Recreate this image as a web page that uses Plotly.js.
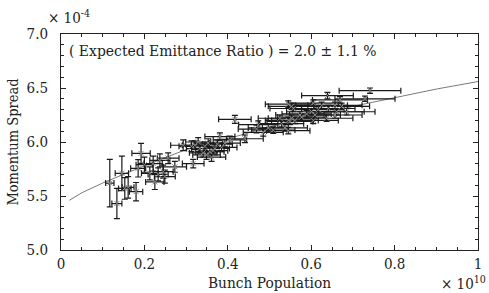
<!DOCTYPE html>
<html>
<head>
<meta charset="utf-8">
<script src="https://cdn.plot.ly/plotly-3.0.1.min.js"></script>
<style>html,body{margin:0;padding:0;background:#fff;}#chart{width:489px;height:293px;}</style>
</head>
<body>
<div id="chart"></div>
<script>
// Measured data (x in units of 1e10, y in units of 1e-4)
const bunchPop = [0.117,0.134,0.146,0.153,0.161,0.180,0.192,0.185,0.200,0.213,0.221,0.225,0.233,0.245,0.249,0.257,0.273,0.237,0.293,0.317,0.313,
  0.329,0.333,0.345,0.349,0.357,0.361,0.369,0.381,0.393,0.417,0.441,0.469,0.497,0.509,0.321,0.375,0.405,0.353,0.365,0.385,0.341,
  0.525,0.537,0.545,0.545,0.545,0.553,0.557,0.553,0.561,0.573,0.577,0.601,0.605,0.605,0.609,0.625,0.637,0.639,0.641,0.657,0.657,0.661,0.669,0.673,0.685,0.729,0.741,0.549,0.589,0.529,0.617,0.473,0.485];
const momSpread = [5.62,5.43,5.71,5.57,5.58,5.54,5.895,5.756,5.79,5.71,5.80,5.63,5.70,5.725,5.68,5.85,5.77,5.83,5.97,5.80,5.96,
  6.00,5.94,5.96,5.88,5.91,5.86,5.94,6.05,5.99,6.21,6.03,6.12,6.13,6.11,5.97,5.98,6.02,5.99,5.92,5.95,5.90,
  6.22,6.13,6.20,6.105,6.35,6.33,6.31,6.22,6.20,6.25,6.23,6.28,6.36,6.20,6.25,6.34,6.22,6.43,6.31,6.34,6.25,6.28,6.39,6.33,6.28,6.40,6.475,6.19,6.26,6.17,6.30,6.16,6.09];
const popErr = [0.010,0.012,0.016,0.015,0.014,0.016,0.022,0.018,0.020,0.020,0.022,0.022,0.024,0.024,0.025,0.026,0.028,0.024,0.030,0.026,0.030,
  0.030,0.032,0.033,0.033,0.034,0.034,0.035,0.036,0.037,0.039,0.044,0.044,0.048,0.052,0.030,0.036,0.040,0.034,0.035,0.037,0.033,
  0.052,0.054,0.055,0.052,0.055,0.056,0.056,0.056,0.056,0.058,0.058,0.060,0.060,0.060,0.061,0.062,0.063,0.062,0.064,0.065,0.065,0.066,0.066,0.067,0.068,0.072,0.074,0.055,0.059,0.053,0.062,0.047,0.048];
const spreadErr = [0.22,0.14,0.16,0.10,0.10,0.085,0.093,0.08,0.07,0.06,0.07,0.07,0.06,0.06,0.06,0.05,0.05,0.06,0.05,0.04,0.05,
  0.04,0.04,0.04,0.04,0.04,0.04,0.04,0.035,0.035,0.037,0.035,0.035,0.035,0.03,0.04,0.04,0.035,0.04,0.04,0.04,0.04,
  0.03,0.03,0.03,0.03,0.03,0.03,0.03,0.03,0.03,0.03,0.03,0.03,0.03,0.03,0.03,0.03,0.03,0.03,0.03,0.03,0.03,0.03,0.03,0.03,0.03,0.025,0.025,0.03,0.03,0.03,0.03,0.035,0.035];
// Fit curve
const fitX = [0.02,0.05,0.1,0.15,0.2,0.3,0.4,0.5,0.6,0.7,0.8,0.9,1.0];
const fitY = [5.46,5.53,5.62,5.70,5.78,5.93,6.03,6.14,6.24,6.33,6.41,6.49,6.56];
const xTickVals = [0,0.2,0.4,0.6,0.8,1];
const xTickText = ['0','0.2','0.4','0.6','0.8','1'];
const yTickVals = [5.0,5.5,6.0,6.5,7.0];

const FAM = 'DejaVu Serif Condensed, DejaVu Serif';
function f(size) { return {family: FAM, color: '#222', size: size}; }

const traces = [
  {x: fitX, y: fitY, type: 'scatter', mode: 'lines', line: {color: '#7a7a7a', width: 1}, hoverinfo: 'skip'},
  {x: bunchPop, y: momSpread, type: 'scatter', mode: 'markers',
   marker: {symbol: 'x-thin-open', size: 5, color: '#888', line: {color: '#888', width: 1}},
   error_x: {type: 'data', array: popErr, visible: true, color: '#1a1a1a', thickness: 1.2, width: 3},
   error_y: {type: 'data', array: spreadErr, visible: true, color: '#1a1a1a', thickness: 1.2, width: 3}}
];

const axisCommon = {
  showline: true, linecolor: '#222', linewidth: 1, mirror: 'allticks',
  ticks: 'inside', ticklen: 5, tickcolor: '#222', tickwidth: 1,
  showgrid: false, zeroline: false, tickfont: f(15)
};

const layout = {
  width: 489, height: 293,
  margin: {l: 61, r: 11, t: 34, b: 43},
  paper_bgcolor: '#fff', plot_bgcolor: '#fff',
  showlegend: false,
  font: f(14),
  xaxis: Object.assign({}, axisCommon, {
    range: [0, 1], tickvals: xTickVals, ticktext: xTickText,
    minor: {dtick: 0.05, ticks: 'inside', ticklen: 3, tickcolor: '#222'},
    ticklabelstandoff: 0,
    title: {text: 'Bunch Population', font: f(15.3), standoff: 5}
  }),
  yaxis: Object.assign({}, axisCommon, {
    range: [5.0, 7.0], tickvals: yTickVals, tickformat: '.1f',
    minor: {dtick: 0.1, ticks: 'inside', ticklen: 3, tickcolor: '#222'},
    ticklabelstandoff: 9,
    title: {text: 'Momentum Spread', font: f(14.5), standoff: 4}
  }),
  annotations: [
    {xref: 'paper', yref: 'paper', x: 0.014, y: 0.92, xanchor: 'left', yanchor: 'middle', showarrow: false,
     text: '( Expected Emittance Ratio ) = 2.0 ± 1.1 %', font: f(15.5)},
    {xref: 'paper', yref: 'paper', x: -0.035, y: 1.0, xanchor: 'left', yanchor: 'bottom', yshift: 5, showarrow: false,
     text: '× 10<sup>-4</sup>', font: f(15)},
    {xref: 'paper', yref: 'paper', x: 1.025, y: 0, xanchor: 'right', yanchor: 'top', yshift: -21, showarrow: false,
     text: '× 10<sup>10</sup>', font: f(15)}
  ]
};

Plotly.newPlot('chart', traces, layout, {displayModeBar: false, staticPlot: true});
</script>
</body>
</html>
